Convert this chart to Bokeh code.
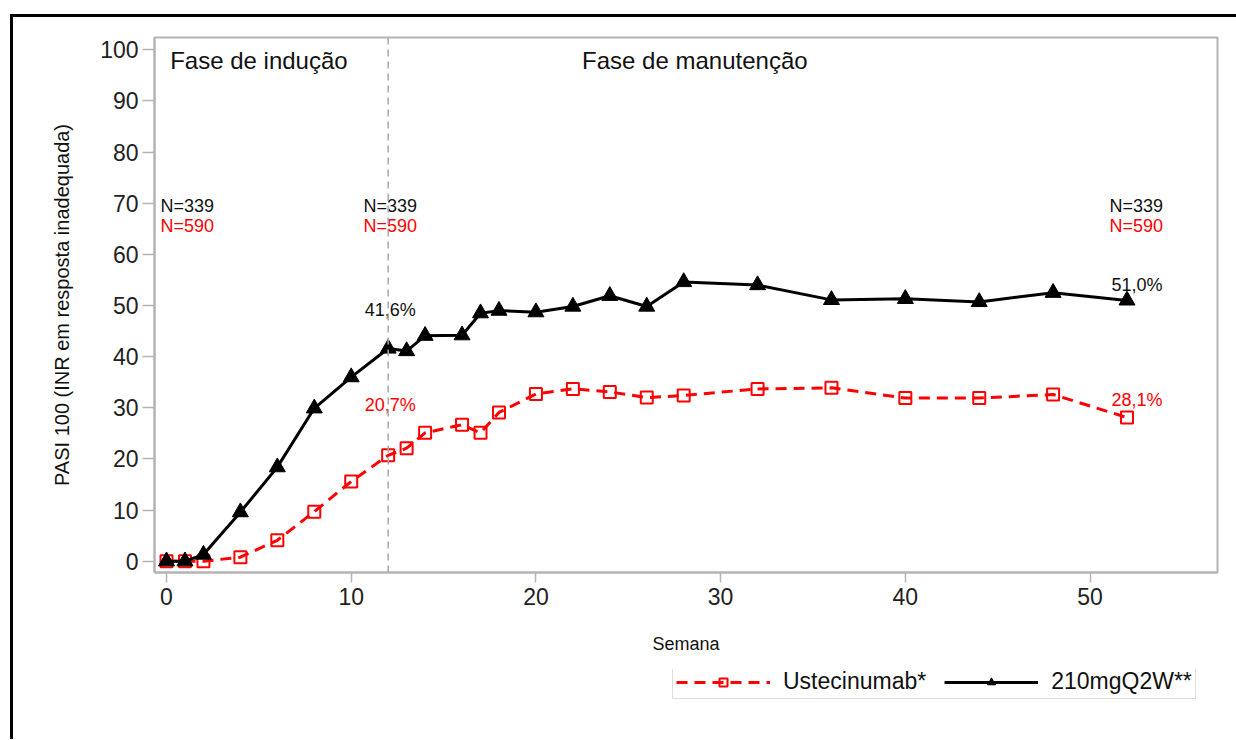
from bokeh.plotting import figure
from bokeh.layouts import column
from bokeh.models import Range1d, Span, Legend, LegendItem, FixedTicker
from bokeh.core.properties import value
from bokeh.embed import file_html
from bokeh.resources import INLINE

# ---------------- data ----------------
weeks = [0, 1, 2, 4, 6, 8, 10, 12, 13, 14, 16, 17, 18, 20, 22, 24, 26, 28, 32, 36, 40, 44, 48, 52]
pasi_210 = [0, 0, 1.3, 9.6, 18.4, 29.9, 36.0, 41.6, 41.1, 44.1, 44.2, 48.5, 49.0, 48.7,
            49.8, 51.9, 49.8, 54.6, 54.0, 51.1, 51.3, 50.7, 52.5, 51.0]
pasi_ust = [0, 0, 0, 0.8, 4.1, 9.7, 15.6, 20.7, 22.1, 25.1, 26.7, 25.1, 29.1, 32.7,
            33.7, 33.1, 32.0, 32.4, 33.7, 33.9, 31.9, 31.9, 32.6, 28.1]
series_names = ["Ustecinumab*", "210mgQ2W**"]
x_ticks = [0, 10, 20, 30, 40, 50]
y_ticks = [0, 10, 20, 30, 40, 50, 60, 70, 80, 90, 100]
n_210 = "N=339"
n_ust = "N=590"
n_weeks = [0, 12, 52]
pct_weeks = [12, 52]
pct_210 = ["41,6%", "51,0%"]
pct_ust = ["20,7%", "28,1%"]
phase_labels = ["Fase de indução", "Fase de manutenção"]
phase_split_week = 12

RED = "#ff0000"
BLACK = "#000000"
GREY = "#b4b4b4"
FONT = value("Liberation Sans")

p = figure(width=1223, height=652, output_backend="svg", toolbar_location=None,
           x_range=Range1d(-0.65, 56.9), y_range=Range1d(-2.2, 102.4),
           min_border_left=141, min_border_top=20, min_border_right=19, min_border_bottom=97)

p.xgrid.visible = False
p.ygrid.visible = False
p.outline_line_color = GREY
p.outline_line_width = 2
p.background_fill_color = "white"
p.border_fill_color = "white"

for ax in (p.xaxis[0], p.yaxis[0]):
    ax.axis_line_color = GREY
    ax.axis_line_width = 2
    ax.major_tick_line_color = GREY
    ax.major_tick_line_width = 1.5
    ax.major_tick_in = 0
    ax.minor_tick_line_color = None
    ax.major_label_text_font = "Liberation Sans"
    ax.major_label_text_font_size = "23px"
    ax.major_label_text_color = "#222222"
    ax.axis_label_text_font = "Liberation Sans"
    ax.axis_label_text_font_style = "normal"
    ax.axis_label_text_color = "#111111"

p.xaxis.ticker = FixedTicker(ticks=x_ticks)
p.yaxis.ticker = FixedTicker(ticks=y_ticks)
p.xaxis.major_tick_out = 10
p.yaxis.major_tick_out = 12
p.xaxis.major_label_standoff = 5
p.yaxis.major_label_standoff = 4
p.xaxis.axis_label = "Semana"
p.xaxis.axis_label_text_font_size = "18px"
p.xaxis.axis_label_standoff = 26
p.yaxis.axis_label = "PASI 100 (INR em resposta inadequada)"
p.yaxis.axis_label_text_font_size = "20px"
p.yaxis.axis_label_standoff = 24

# phase divider
p.add_layout(Span(location=phase_split_week, dimension="height", line_color="#a8a8a8",
                  line_width=1.5, line_dash="7 5"))

# series
line_ust = dict(line_color=RED, line_width=3, line_dash="11 7")
mark_ust = dict(marker="square", size=12, fill_color=None, line_color=RED, line_width=2)
line_210 = dict(line_color=BLACK, line_width=3)
mark_210 = dict(marker="triangle", size=16, fill_color=BLACK, line_color=BLACK)

p.line(weeks, pasi_ust, **line_ust)
p.scatter(weeks, pasi_ust, **mark_ust)
p.line(weeks, pasi_210, **line_210)
p.scatter(weeks, pasi_210, **mark_210)

# phase labels
p.text(x=[0.2], y=[97.9], text=[phase_labels[0]], text_font=FONT, text_font_size="24px",
       text_baseline="middle", text_align="left", text_color="#111111")
p.text(x=[22.5], y=[97.9], text=[phase_labels[1]], text_font=FONT, text_font_size="24px",
       text_baseline="middle", text_align="left", text_color="#111111")

# N labels
nfs = "18px"
p.text(x=[n_weeks[0]], y=[69.5], text=[n_210], text_font=FONT, text_font_size=nfs,
       text_align="left", text_baseline="middle", x_offset=-6, text_color="#111111")
p.text(x=[n_weeks[0]], y=[65.6], text=[n_ust], text_font=FONT, text_font_size=nfs,
       text_align="left", text_baseline="middle", x_offset=-6, text_color=RED)
p.text(x=[n_weeks[1]], y=[69.5], text=[n_210], text_font=FONT, text_font_size=nfs,
       text_align="center", text_baseline="middle", x_offset=2, text_color="#111111")
p.text(x=[n_weeks[1]], y=[65.6], text=[n_ust], text_font=FONT, text_font_size=nfs,
       text_align="center", text_baseline="middle", x_offset=2, text_color=RED)
p.text(x=[n_weeks[2]], y=[69.5], text=[n_210], text_font=FONT, text_font_size=nfs,
       text_align="right", text_baseline="middle", x_offset=36, text_color="#111111")
p.text(x=[n_weeks[2]], y=[65.6], text=[n_ust], text_font=FONT, text_font_size=nfs,
       text_align="right", text_baseline="middle", x_offset=36, text_color=RED)

# percent labels
i12 = weeks.index(pct_weeks[0])
i52 = weeks.index(pct_weeks[1])
p.text(x=[pct_weeks[0]], y=[pasi_210[i12]], text=[pct_210[0]], text_font=FONT, text_font_size="18px",
       text_align="center", text_baseline="middle", x_offset=2, y_offset=-38, text_color="#111111")
p.text(x=[pct_weeks[0]], y=[pasi_ust[i12]], text=[pct_ust[0]], text_font=FONT, text_font_size="18px",
       text_align="center", text_baseline="middle", x_offset=2, y_offset=-50, text_color=RED)
p.text(x=[pct_weeks[1]], y=[pasi_210[i52]], text=[pct_210[1]], text_font=FONT, text_font_size="18px",
       text_align="center", text_baseline="middle", x_offset=10, y_offset=-15, text_color="#111111")
p.text(x=[pct_weeks[1]], y=[pasi_ust[i52]], text=[pct_ust[1]], text_font=FONT, text_font_size="18px",
       text_align="center", text_baseline="middle", x_offset=10, y_offset=-18, text_color=RED)

# ---------------- legend strip (series kept out of its visible range) ----------------
lg = figure(width=1223, height=70, output_backend="svg", toolbar_location=None,
            x_range=Range1d(-0.65, 56.9), y_range=Range1d(-1001, -1000),
            min_border=0, x_axis_type=None, y_axis_type=None)
lg.xgrid.visible = False
lg.ygrid.visible = False
lg.outline_line_color = None
lg.background_fill_color = "white"
lg.border_fill_color = "white"
lr_line = lg.line(weeks, pasi_ust, **line_ust)
lr_mark = lg.scatter(weeks, pasi_ust, **mark_ust)
lb_line = lg.line(weeks, pasi_210, **line_210)
lb_mark = lg.scatter(weeks, pasi_210, **mark_210)

legend = Legend(items=[LegendItem(label=series_names[0], renderers=[lr_line, lr_mark]),
                       LegendItem(label=series_names[1], renderers=[lb_line, lb_mark])],
                location=(518, 40), orientation="horizontal",
                label_text_font="Liberation Sans", label_text_font_size="23px",
                label_text_color="#111111",
                glyph_width=94, glyph_height=20, label_height=20, label_standoff=13,
                spacing=18, padding=3, margin=0,
                border_line_color="#bbbbbb", border_line_width=1.5,
                background_fill_color="white", background_fill_alpha=1)
lg.add_layout(legend, "center")

layout = column(p, lg, spacing=0)
layout.margin = (14, 0, 0, 10)
layout.styles = {"border-top": "3px solid black", "border-left": "3px solid black"}

open("out.html", "w").write(file_html(layout, INLINE))
